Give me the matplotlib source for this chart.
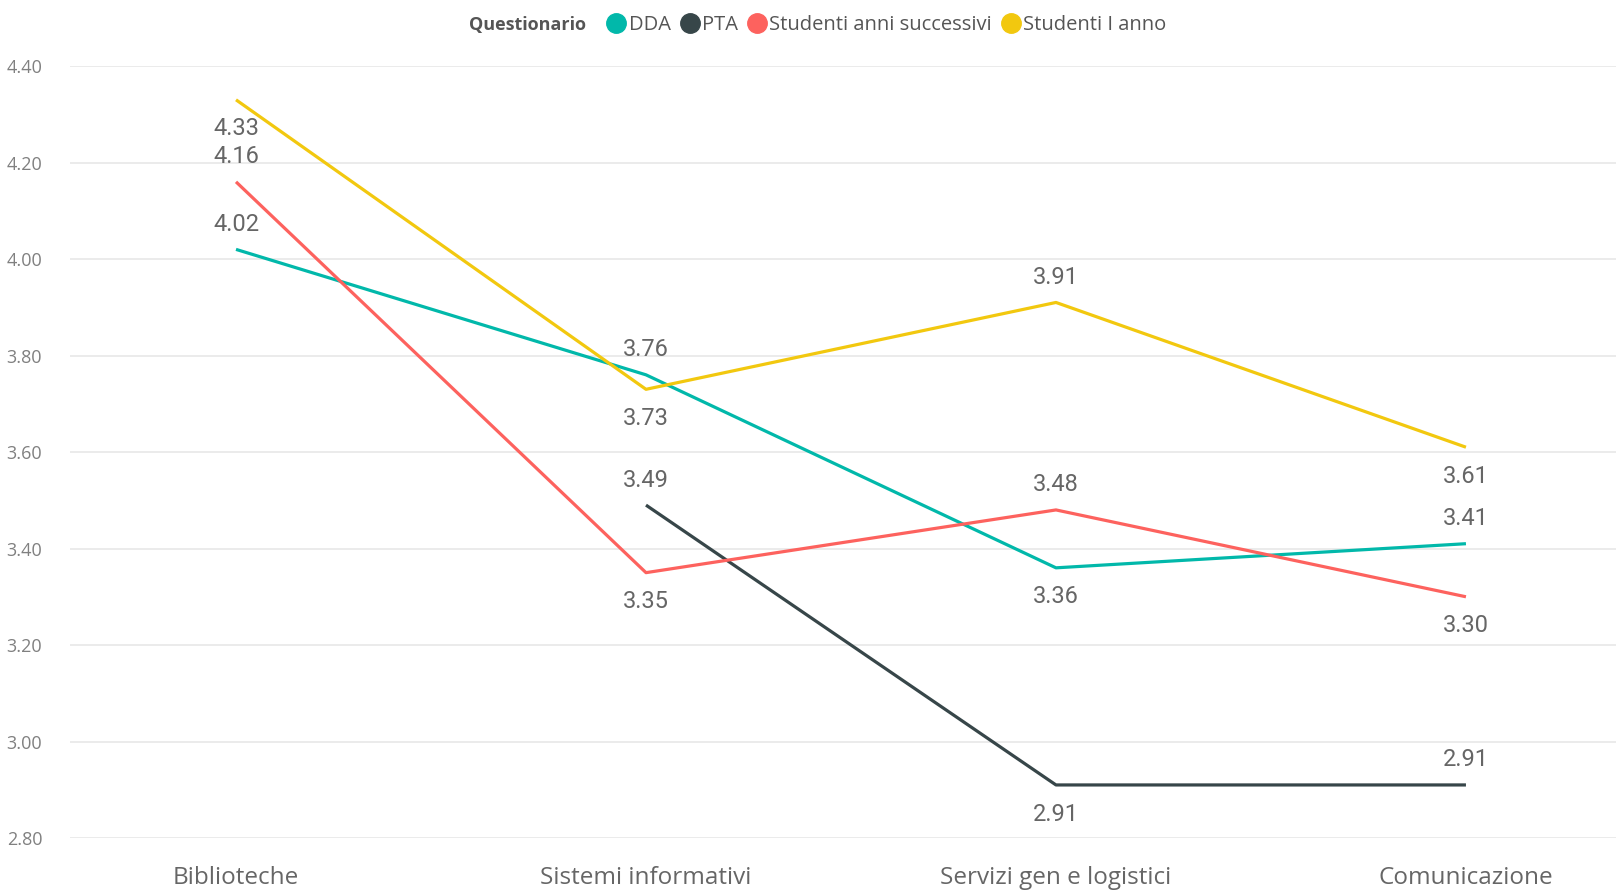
import matplotlib.pyplot as plt
from matplotlib.lines import Line2D
import numpy as np

# Categories and series values (NaN = no value)
categories = ["Biblioteche", "Sistemi informativi", "Servizi gen e logistici", "Comunicazione"]
dda = [4.02, 3.76, 3.36, 3.41]
pta = [np.nan, 3.49, 2.91, 2.91]
stud_succ = [4.16, 3.35, 3.48, 3.30]
stud_primo = [4.33, 3.73, 3.91, 3.61]

series_names = ["DDA", "PTA", "Studenti anni successivi", "Studenti I anno"]
colors = ["#01B8AA", "#374649", "#FD625E", "#F2C80F"]

# label placement: +1 above, -1 below the point
label_pos = {
    "DDA": [1, 1, -1, 1],
    "PTA": [1, 1, -1, 1],
    "Studenti anni successivi": [1, -1, 1, -1],
    "Studenti I anno": [-1, -1, 1, -1],
}

fig = plt.figure(figsize=(16.16, 8.9), dpi=100)
ax = fig.add_axes([0.0433, 0.0584, 0.9567, 0.8674])

x = np.arange(len(categories))
all_series = [dda, pta, stud_succ, stud_primo]
for name, vals, col in zip(series_names, all_series, colors):
    ax.plot(x, vals, color=col, linewidth=2.3, solid_capstyle="butt", zorder=3)
    for xi, v, p in zip(x, vals, label_pos[name]):
        if np.isnan(v):
            continue
        off = 18 if p > 0 else -21
        ax.annotate(f"{v:.2f}", (xi, v), xytext=(0, off), textcoords="offset points",
                    ha="center", va="center", fontsize=17, color="#666666",
                    family="Roboto", zorder=4)

ax.set_xlim(-0.405, 3.366)
ax.set_ylim(2.8, 4.4)
ticks = np.arange(2.8, 4.41, 0.2)
ax.set_yticks(ticks)
ax.set_yticklabels([f"{t:.2f}" for t in ticks])
ax.set_xticks(x)
ax.set_xticklabels(categories)
ax.grid(axis="y", color="#e8e8e8", linewidth=1.2)
ax.set_axisbelow(True)
for s in ax.spines.values():
    s.set_visible(False)
ax.tick_params(axis="both", length=0)
ax.tick_params(axis="y", pad=20, labelsize=13, labelcolor="#808080")
ax.tick_params(axis="x", pad=20, labelsize=17.5, labelcolor="#666666")
for lab in ax.get_yticklabels() + ax.get_xticklabels():
    lab.set_family("Open Sans")

# legend
fig.text(0.2905, 0.972, "Questionario", ha="left", va="center", fontsize=13,
         fontweight="bold", color="#555555", family="Open Sans")
handles = [Line2D([], [], linestyle="none", marker="o", markersize=14, color=c) for c in colors]
leg = fig.legend(handles, series_names, loc="center left", bbox_to_anchor=(0.374, 0.972),
                 ncol=4, frameon=False, handletextpad=0.0, columnspacing=0.35,
                 handlelength=1.2, borderaxespad=0, borderpad=0,
                 prop={"family": "Open Sans", "size": 14.5})
for t in leg.get_texts():
    t.set_color("#555555")

fig.savefig("out.png", dpi=100)
